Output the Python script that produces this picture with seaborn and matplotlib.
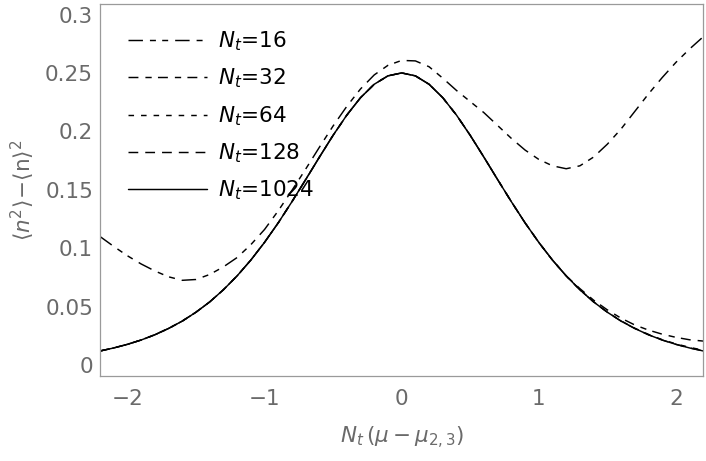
import numpy as np
import pandas as pd
import seaborn as sns
import matplotlib
matplotlib.use('Agg')
import matplotlib.pyplot as plt

# x = N_t (mu - mu_{2,3}), sampled every 0.1
shift = [-2.2, -2.1, -2.0, -1.9, -1.8, -1.7, -1.6, -1.5, -1.4, -1.3, -1.2,
         -1.1, -1.0, -0.9, -0.8, -0.7, -0.6, -0.5, -0.4, -0.3, -0.2, -0.1,
         0.0, 0.1, 0.2, 0.3, 0.4, 0.5, 0.6, 0.7, 0.8, 0.9, 1.0, 1.1, 1.2,
         1.3, 1.4, 1.5, 1.6, 1.7, 1.8, 1.9, 2.0, 2.1, 2.2]

var_nt16 = [0.1100, 0.1015, 0.0935, 0.0865, 0.0805, 0.0755, 0.0725, 0.0732,
            0.0775, 0.0840, 0.0920, 0.1030, 0.1160, 0.1320, 0.1495, 0.1677,
            0.1864, 0.2046, 0.2214, 0.2363, 0.2483, 0.2565, 0.2607, 0.2603,
            0.2553, 0.2455, 0.2350, 0.2255, 0.2160, 0.2050, 0.1940, 0.1840,
            0.1760, 0.1705, 0.1680, 0.1705, 0.1780, 0.1890, 0.2020, 0.2170,
            0.2320, 0.2460, 0.2590, 0.2705, 0.2810]

var_nt32 = [0.0120, 0.0146, 0.0177, 0.0214, 0.0259, 0.0313, 0.0376, 0.0452,
            0.0540, 0.0644, 0.0763, 0.0898, 0.1050, 0.1217, 0.1398, 0.1587,
            0.1779, 0.1966, 0.2139, 0.2288, 0.2403, 0.2475, 0.2500, 0.2475,
            0.2403, 0.2288, 0.2139, 0.1966, 0.1779, 0.1587, 0.1398, 0.1217,
            0.1050, 0.0898, 0.0763, 0.0654, 0.0555, 0.0472, 0.0401, 0.0343,
            0.0299, 0.0264, 0.0237, 0.0216, 0.0205]

var_nt64 = [0.0120, 0.0146, 0.0177, 0.0214, 0.0259, 0.0313, 0.0376, 0.0452,
            0.0540, 0.0644, 0.0763, 0.0898, 0.1050, 0.1217, 0.1398, 0.1587,
            0.1779, 0.1966, 0.2139, 0.2288, 0.2403, 0.2475, 0.2500, 0.2475,
            0.2403, 0.2288, 0.2139, 0.1966, 0.1779, 0.1587, 0.1398, 0.1217,
            0.1050, 0.0898, 0.0763, 0.0644, 0.0541, 0.0453, 0.0378, 0.0315,
            0.0262, 0.0217, 0.0181, 0.0151, 0.0127]

var_nt128 = [0.0120, 0.0146, 0.0177, 0.0214, 0.0259, 0.0313, 0.0376, 0.0452,
             0.0540, 0.0644, 0.0763, 0.0898, 0.1050, 0.1217, 0.1398, 0.1587,
             0.1779, 0.1966, 0.2139, 0.2288, 0.2403, 0.2475, 0.2500, 0.2475,
             0.2403, 0.2288, 0.2139, 0.1966, 0.1779, 0.1587, 0.1398, 0.1217,
             0.1050, 0.0898, 0.0763, 0.0644, 0.0540, 0.0452, 0.0376, 0.0313,
             0.0259, 0.0214, 0.0177, 0.0146, 0.0121]

var_nt1024 = [0.0120, 0.0146, 0.0177, 0.0214, 0.0259, 0.0313, 0.0376, 0.0452,
              0.0540, 0.0644, 0.0763, 0.0898, 0.1050, 0.1217, 0.1398, 0.1587,
              0.1779, 0.1966, 0.2139, 0.2288, 0.2403, 0.2475, 0.2500, 0.2475,
              0.2403, 0.2288, 0.2139, 0.1966, 0.1779, 0.1587, 0.1398, 0.1217,
              0.1050, 0.0898, 0.0763, 0.0644, 0.0540, 0.0452, 0.0376, 0.0313,
              0.0259, 0.0214, 0.0177, 0.0146, 0.0120]

nt_values = ['16', '32', '64', '128', '1024']
series = [var_nt16, var_nt32, var_nt64, var_nt128, var_nt1024]

xticks = [-2, -1, 0, 1, 2]
xticklabels = ['\u22122', '\u22121', '0', '1', '2']
yticks = [0, 0.05, 0.1, 0.15, 0.2, 0.25, 0.3]
yticklabels = ['0', '0.05', '0.1', '0.15', '0.2', '0.25', '0.3']

# mathematica-ish dash patterns (points, lw=1)
line_styles = {
    '16': (0, (9.9, 4.8, 4.1, 4.3, 4.1, 4.8)),
    '32': (0, (6.8, 4.8, 4.3, 4.3)),
    '64': (0, (3.8, 4.8)),
    '128': (0, (6.7, 4.8)),
    '1024': '-',
}

sns.set_theme(style='white')
plt.rcParams['font.family'] = ['DejaVu Sans']
plt.rcParams['mathtext.fontset'] = 'dejavusans'

gray = '#6a6a6a'
frame = '#9a9a9a'
fs = 15.5

fig = plt.figure(figsize=(7.06, 4.61), dpi=100)
ax = fig.add_axes([100 / 706, 85 / 461, 603.3 / 706, 372 / 461])

for nt, vals in zip(nt_values, series):
    df = pd.DataFrame({'shift': shift, 'var': vals})
    sns.lineplot(data=df, x='shift', y='var', ax=ax, color='black', lw=1.05,
                 linestyle=line_styles[nt], label=f'$N_t$={nt}')

ax.set_xlim(-2.2, 2.2)
ax.set_ylim(-0.0094, 0.309)
ax.set_xticks(xticks)
ax.set_xticklabels(xticklabels)
ax.set_yticks(yticks)
ax.set_yticklabels(yticklabels)

for side in ['left', 'right', 'top', 'bottom']:
    ax.spines[side].set_visible(True)
    ax.spines[side].set_color(frame)
    ax.spines[side].set_linewidth(0.9)

ax.tick_params(axis='x', direction='in', length=4, width=0.8, color=frame,
               labelsize=fs, labelcolor=gray, pad=9)
ax.tick_params(axis='y', direction='in', length=4, width=0.8, color=frame,
               labelsize=fs, labelcolor=gray, pad=5)

ax.set_xlabel(r'$N_t\,(\mu - \mu_{2,3})$', fontsize=fs, color=gray, labelpad=12)
ax.set_ylabel(r'$\langle n^2\rangle\!-\!\langle\mathrm{n}\rangle^2$', fontsize=fs,
              color=gray, labelpad=6)

ax.legend(loc='upper left', bbox_to_anchor=(0.046, 0.932), frameon=False,
          fontsize=fs, handlelength=3.7, handletextpad=0.5, labelspacing=0.64,
          borderpad=0, borderaxespad=0, labelcolor='black')

fig.savefig('out.png', dpi=100)
